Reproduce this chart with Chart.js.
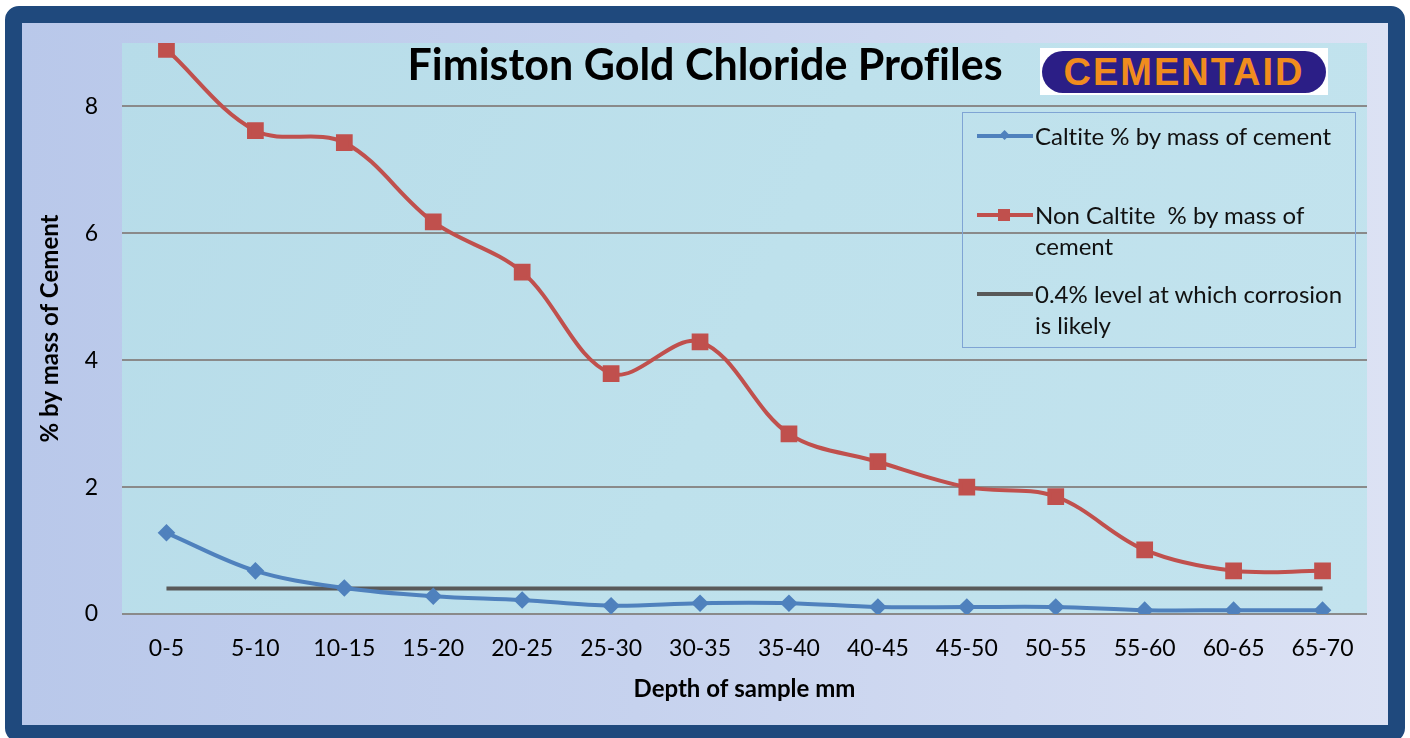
<!DOCTYPE html>
<html>
<head>
<meta charset="utf-8">
<script src="https://cdn.jsdelivr.net/npm/chart.js@4.4.1/dist/chart.umd.min.js"></script>
<style>
  body { margin: 0; width: 1410px; height: 738px; overflow: hidden; background: #fff; font-family: Lato, "Open Sans", sans-serif; font-variant-ligatures: none; }
  #frame {
    position: absolute; left: 5px; top: 6px; width: 1400px; height: 736px; box-sizing: border-box;
    border: 17px solid #1F497D; border-radius: 14px;
    background: linear-gradient(90deg, #B9C8EA 0%, #C6D2EE 45%, #DCE2F4 100%);
  }
  #grafico { position: absolute; left: 0; top: 0; }
  #titulo {
    position: absolute; left: 0; width: 1410px; top: 38px; text-align: center;
    font-weight: bold; font-size: 43px; color: #000;
  }
  #logo {
    position: absolute; left: 1040px; top: 48px; width: 288px; height: 47px; background: #fff;
  }
  #logo div {
    position: absolute; left: 2px; top: 3px; right: 2px; bottom: 2px; border-radius: 22px;
    background: #2B1E86; color: #F08C1E; font-family: "Liberation Sans", Arial, sans-serif;
    font-weight: bold; font-size: 38px; text-align: center; line-height: 42px; letter-spacing: 2px;
  }
  #legenda {
    position: absolute; left: 962px; top: 112px; width: 394px; height: 236px; box-sizing: border-box;
    border: 1px solid #7FA4D4; font-size: 24px; color: #111;
  }
  .item { position: absolute; left: 12px; width: 375px; line-height: 31px; }
  .item svg { position: absolute; left: 0; top: 8px; }
  .item span { display: block; margin-left: 60px; }
</style>
</head>
<body>
<div id="frame"></div>
<canvas id="grafico" width="1410" height="738"></canvas>
<div id="titulo">Fimiston Gold Chloride Profiles</div>
<div id="logo"><div>CEMENTAID</div></div>
<div id="legenda">
  <div class="item" style="top:7px">
    <svg width="60" height="16"><line x1="2" y1="8" x2="58" y2="8" stroke="#4F81BD" stroke-width="4"/><rect x="25" y="3" width="7" height="7" fill="#4F81BD" transform="rotate(45 28.5 8)"/></svg>
    <span>Caltite % by mass of cement</span>
  </div>
  <div class="item" style="top:86px">
    <svg width="60" height="16"><line x1="2" y1="8" x2="58" y2="8" stroke="#C0504D" stroke-width="4"/><rect x="23" y="2" width="12" height="12" fill="#C0504D"/></svg>
    <span>Non Caltite &nbsp;% by mass of cement</span>
  </div>
  <div class="item" style="top:165px">
    <svg width="60" height="16"><line x1="2" y1="8" x2="58" y2="8" stroke="#595959" stroke-width="4"/></svg>
    <span>0.4% level at which corrosion is likely</span>
  </div>
</div>
<script>
// dados
const profundidades = ["0-5", "5-10", "10-15", "15-20", "20-25", "25-30", "30-35",
  "35-40", "40-45", "45-50", "50-55", "55-60", "60-65", "65-70"];
const caltite = [1.28, 0.68, 0.41, 0.28, 0.22, 0.13, 0.17, 0.17, 0.11, 0.11, 0.11, 0.06, 0.06, 0.06];
const naoCaltite = [8.9, 7.62, 7.43, 6.18, 5.39, 3.79, 4.29, 2.84, 2.4, 2.0, 1.85, 1.01, 0.68, 0.68];
const nivelCorrosao = [0.4, 0.4, 0.4, 0.4, 0.4, 0.4, 0.4, 0.4, 0.4, 0.4, 0.4, 0.4, 0.4, 0.4];
const ticksY = [0, 2, 4, 6, 8];

// fundo da área do gráfico
const fundoArea = {
  id: "fundoArea",
  beforeDraw(chart) {
    const { ctx, chartArea: a } = chart;
    ctx.save();
    const g = ctx.createLinearGradient(a.left, a.top, a.right, a.bottom);
    g.addColorStop(0, "#B7DCE9");
    g.addColorStop(0.5, "#BEE1EC");
    g.addColorStop(1, "#C3E3EE");
    ctx.fillStyle = g;
    ctx.fillRect(a.left, a.top, a.right - a.left, a.bottom - a.top);
    ctx.restore();
  },
};

const ctx = document.getElementById("grafico").getContext("2d");
const myChart = new Chart(ctx, {
  type: "line",
  data: {
    labels: profundidades,
    datasets: [
      {
        label: "0.4% level at which corrosion is likely",
        data: nivelCorrosao,
        borderColor: "#595959",
        borderWidth: 4,
        pointRadius: 0,
        tension: 0,
        order: 3,
      },
      {
        label: "Caltite % by mass of cement",
        data: caltite,
        borderColor: "#4F81BD",
        backgroundColor: "#4F81BD",
        borderWidth: 4,
        pointStyle: "rectRot",
        pointRadius: 6,
        tension: 0.35,
        order: 1,
      },
      {
        label: "Non Caltite  % by mass of cement",
        data: naoCaltite,
        borderColor: "#C0504D",
        backgroundColor: "#C0504D",
        borderWidth: 4,
        pointStyle: "rect",
        pointRadius: 9,
        tension: 0.35,
        order: 2,
      },
    ],
  },
  options: {
    responsive: false,
    animation: false,
    layout: { padding: { left: 22, right: 43, top: 43, bottom: 30 } },
    plugins: {
      legend: { display: false },
      tooltip: { enabled: false },
    },
    scales: {
      x: {
        offset: true,
        grid: { display: false },
        border: { display: false },
        ticks: { color: "#000", padding: 13, font: { family: "Lato", size: 23 } },
        title: {
          display: true,
          text: "Depth of sample mm",
          color: "#000",
          padding: { top: 6 },
          font: { family: "Lato", size: 24, weight: "bold" },
        },
        afterFit: (s) => { s.height = 94; },
      },
      y: {
        min: 0,
        max: 9,
        afterBuildTicks: (s) => { s.ticks = ticksY.map((v) => ({ value: v })); },
        grid: { color: "#8A8A8A", lineWidth: 2, drawTicks: false },
        border: { display: false },
        ticks: { color: "#000", padding: 24, font: { family: "Lato", size: 23 } },
        title: {
          display: true,
          text: "% by mass of Cement",
          color: "#000",
          padding: { top: 14 },
          font: { family: "Lato", size: 24, weight: "bold" },
        },
        afterFit: (s) => { s.width = 100; },
      },
    },
  },
  plugins: [fundoArea],
});
</script>
</body>
</html>
